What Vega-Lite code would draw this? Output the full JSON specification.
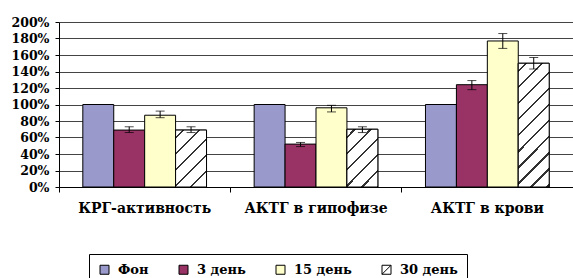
{
  "$schema": "https://vega.github.io/schema/vega-lite/v6.json",
  "width": 514,
  "height": 165,
  "autosize": "none",
  "padding": {"left": 59, "top": 22, "right": 0, "bottom": 91},
  "background": "white",
  "config": {
    "view": {"stroke": null},
    "font": "'DejaVu Serif', 'Liberation Serif', serif",
    "axis": {"labelFont": "'DejaVu Serif', 'Liberation Serif', serif", "labelFontWeight": "bold", "labelColor": "black"},
    "axisY": {
      "title": null, "labelFontSize": 12.5, "labelPadding": 6, "labelOverlap": false,
      "tickSize": 4, "tickColor": "black", "domainColor": "black",
      "gridColor": "#444", "gridOpacity": 1, "gridWidth": 1
    }
  },
  "data": {
    "values": [
      {"group": "КРГ-активность", "series": "Фон", "value": 100, "lo": 100, "hi": 100},
      {"group": "КРГ-активность", "series": "3 день", "value": 69, "lo": 66, "hi": 73},
      {"group": "КРГ-активность", "series": "15 день", "value": 87, "lo": 84, "hi": 92},
      {"group": "КРГ-активность", "series": "30 день", "value": 69, "lo": 66, "hi": 73},
      {"group": "АКТГ в гипофизе", "series": "Фон", "value": 100, "lo": 100, "hi": 100},
      {"group": "АКТГ в гипофизе", "series": "3 день", "value": 52, "lo": 49, "hi": 54},
      {"group": "АКТГ в гипофизе", "series": "15 день", "value": 96, "lo": 91, "hi": 99},
      {"group": "АКТГ в гипофизе", "series": "30 день", "value": 70, "lo": 66, "hi": 73},
      {"group": "АКТГ в крови", "series": "Фон", "value": 100, "lo": 100, "hi": 100},
      {"group": "АКТГ в крови", "series": "3 день", "value": 124, "lo": 118, "hi": 129},
      {"group": "АКТГ в крови", "series": "15 день", "value": 177, "lo": 168, "hi": 186},
      {"group": "АКТГ в крови", "series": "30 день", "value": 150, "lo": 143, "hi": 157}
    ]
  },
  "encoding": {
    "x": {
      "field": "group", "type": "nominal", "sort": null,
      "scale": {"paddingInner": 0, "paddingOuter": 0},
      "axis": {
        "title": null, "labelAngle": 0, "labelFontSize": 14, "labelPadding": 9,
        "tickSize": 5, "tickColor": "black", "bandPosition": 0,
        "domainColor": "black", "grid": false
      }
    },
    "xOffset": {
      "field": "series", "type": "nominal", "sort": ["Фон", "3 день", "15 день", "30 день"],
      "scale": {"paddingInner": 0, "paddingOuter": 0.77}
    }
  },
  "layer": [
    {
      "mark": {"type": "bar", "stroke": "black", "strokeWidth": 1},
      "encoding": {
        "y": {
          "field": "value", "type": "quantitative",
          "scale": {"domain": [0, 200], "nice": false},
          "axis": {"values": [0, 20, 40, 60, 80, 100, 120, 140, 160, 180, 200], "labelExpr": "datum.value + '%'"}
        },
        "color": {
          "field": "series", "type": "nominal", "sort": ["Фон", "3 день", "15 день", "30 день"],
          "scale": {"domain": ["Фон", "3 день", "15 день", "30 день"], "range": ["#9999CC", "#993366", "#FFFFCC", "#FFFFFF"]},
          "legend": {
            "title": null, "orient": "none", "legendX": 30, "legendY": 232,
            "direction": "horizontal", "columns": 4,
            "strokeColor": "black", "padding": 9, "columnPadding": 28,
            "symbolType": "square", "symbolSize": 81, "symbolStrokeColor": "black", "symbolStrokeWidth": 1,
            "symbolOpacity": 1,
            "labelFont": "'DejaVu Serif', 'Liberation Serif', serif", "labelFontWeight": "bold", "labelFontSize": 13, "labelColor": "black",
            "labelOffset": 7,
            "encode": {
              "symbols": {
                "update": {
                  "shape": {"signal": "datum.label === '30 день' ? 'M-1,-1H1V1H-1ZM-1,1L1,-1' : 'square'"}
                }
              }
            }
          }
        }
      }
    },
    {
      "transform": [{"filter": "datum.series === '30 день'"}],
      "mark": {"type": "bar", "stroke": "black", "strokeWidth": 1},
      "encoding": {
        "y": {
          "field": "value", "type": "quantitative",
          "axis": {"values": [0, 20, 40, 60, 80, 100, 120, 140, 160, 180, 200], "labelExpr": "datum.value + '%'"}
        },
        "fill": {
          "condition": {
            "test": "datum.value > 100",
            "value": {
              "gradient": "linear", "x1": 0, "y1": 0, "x2": 0.297, "y2": 1.178,
              "stops": [
                {"offset": 0, "color": "white"},
                {"offset": 0.0425, "color": "white"}, {"offset": 0.0425, "color": "#333"}, {"offset": 0.0575, "color": "#333"}, {"offset": 0.0575, "color": "white"},
                {"offset": 0.1465, "color": "white"}, {"offset": 0.1465, "color": "#333"}, {"offset": 0.1615, "color": "#333"}, {"offset": 0.1615, "color": "white"},
                {"offset": 0.2505, "color": "white"}, {"offset": 0.2505, "color": "#333"}, {"offset": 0.2655, "color": "#333"}, {"offset": 0.2655, "color": "white"},
                {"offset": 0.3545, "color": "white"}, {"offset": 0.3545, "color": "#333"}, {"offset": 0.3695, "color": "#333"}, {"offset": 0.3695, "color": "white"},
                {"offset": 0.4585, "color": "white"}, {"offset": 0.4585, "color": "#333"}, {"offset": 0.4735, "color": "#333"}, {"offset": 0.4735, "color": "white"},
                {"offset": 0.5625, "color": "white"}, {"offset": 0.5625, "color": "#333"}, {"offset": 0.5775, "color": "#333"}, {"offset": 0.5775, "color": "white"},
                {"offset": 0.6665, "color": "white"}, {"offset": 0.6665, "color": "#333"}, {"offset": 0.6815, "color": "#333"}, {"offset": 0.6815, "color": "white"},
                {"offset": 0.7705, "color": "white"}, {"offset": 0.7705, "color": "#333"}, {"offset": 0.7855, "color": "#333"}, {"offset": 0.7855, "color": "white"},
                {"offset": 0.8745, "color": "white"}, {"offset": 0.8745, "color": "#333"}, {"offset": 0.8895, "color": "#333"}, {"offset": 0.8895, "color": "white"},
                {"offset": 0.9785, "color": "white"}, {"offset": 0.9785, "color": "#333"}, {"offset": 0.9935, "color": "#333"}, {"offset": 0.9935, "color": "white"},
                {"offset": 1, "color": "white"}
              ]
            }
          },
          "value": {
            "gradient": "linear", "x1": 0, "y1": 0, "x2": 0.648, "y2": 1.193,
            "stops": [
              {"offset": 0, "color": "white"},
              {"offset": 0.077, "color": "white"}, {"offset": 0.077, "color": "#333"}, {"offset": 0.103, "color": "#333"}, {"offset": 0.103, "color": "white"},
              {"offset": 0.259, "color": "white"}, {"offset": 0.259, "color": "#333"}, {"offset": 0.285, "color": "#333"}, {"offset": 0.285, "color": "white"},
              {"offset": 0.441, "color": "white"}, {"offset": 0.441, "color": "#333"}, {"offset": 0.467, "color": "#333"}, {"offset": 0.467, "color": "white"},
              {"offset": 0.623, "color": "white"}, {"offset": 0.623, "color": "#333"}, {"offset": 0.649, "color": "#333"}, {"offset": 0.649, "color": "white"},
              {"offset": 0.805, "color": "white"}, {"offset": 0.805, "color": "#333"}, {"offset": 0.831, "color": "#333"}, {"offset": 0.831, "color": "white"},
              {"offset": 0.987, "color": "white"}, {"offset": 0.987, "color": "#333"}, {"offset": 1, "color": "#333"}
            ]
          }
        }
      }
    },
    {
      "mark": {"type": "rule", "color": "black", "strokeWidth": 1},
      "encoding": {
        "y": {
          "field": "lo", "type": "quantitative",
          "axis": {"values": [0, 20, 40, 60, 80, 100, 120, 140, 160, 180, 200], "labelExpr": "datum.value + '%'"}
        },
        "y2": {"field": "hi"}
      }
    },
    {
      "mark": {"type": "tick", "color": "black", "size": 9, "thickness": 1, "orient": "horizontal"},
      "encoding": {
        "y": {
          "field": "lo", "type": "quantitative",
          "axis": {"values": [0, 20, 40, 60, 80, 100, 120, 140, 160, 180, 200], "labelExpr": "datum.value + '%'"}
        }
      }
    },
    {
      "mark": {"type": "tick", "color": "black", "size": 9, "thickness": 1, "orient": "horizontal"},
      "encoding": {
        "y": {
          "field": "hi", "type": "quantitative",
          "axis": {"values": [0, 20, 40, 60, 80, 100, 120, 140, 160, 180, 200], "labelExpr": "datum.value + '%'"}
        }
      }
    }
  ]
}
